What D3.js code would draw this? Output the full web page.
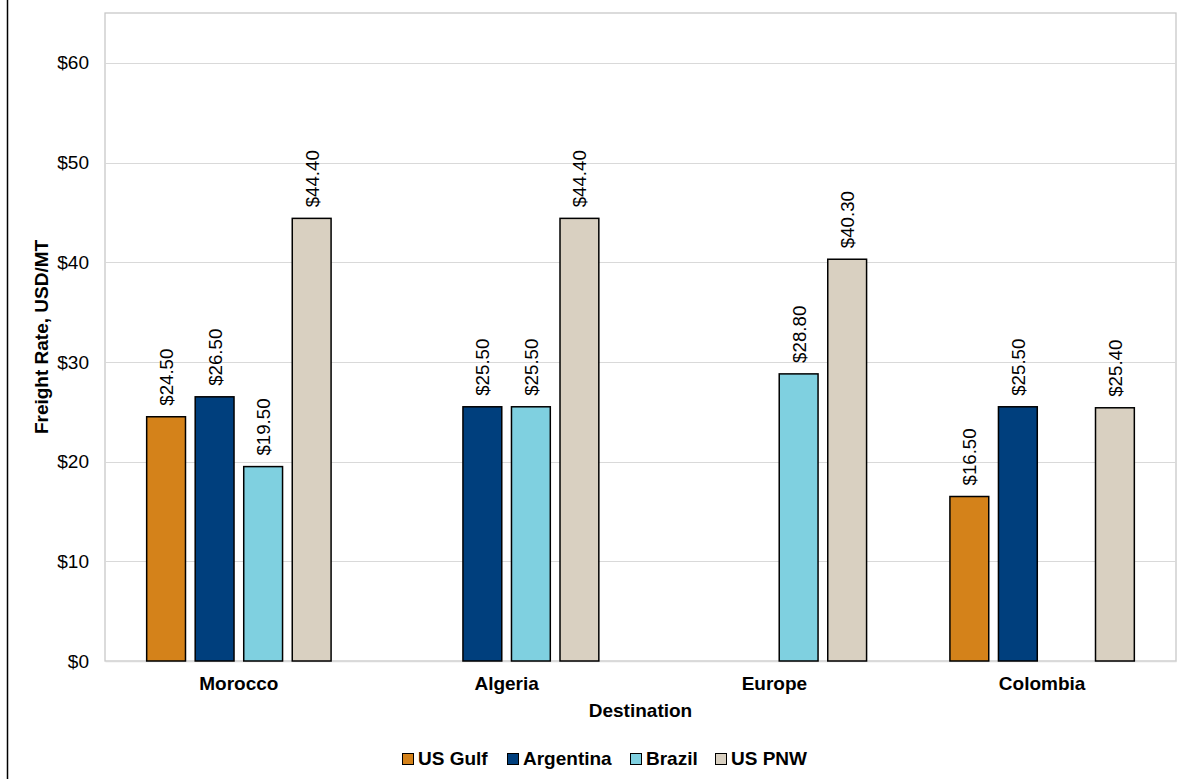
<!DOCTYPE html>
<html><head><meta charset="utf-8">
<script src="https://cdn.jsdelivr.net/npm/d3@7"></script>
<style>body{margin:0;background:#fff;}svg{display:block;font-family:Arial,"Liberation Sans",sans-serif;}</style>
</head><body>
<svg id="c" width="1183" height="779"></svg>
<script>
const categories = ["Morocco","Algeria","Europe","Colombia"];
const seriesNames = ["US Gulf","Argentina","Brazil","US PNW"];
const usGulf = [24.5, null, null, 16.5];
const argentina = [26.5, 25.5, null, 25.5];
const brazil = [19.5, 25.5, 28.8, null];
const usPnw = [44.4, 44.4, 40.3, 25.4];
const yTicks = [0,10,20,30,40,50,60];
const colors = ["#D4821A","#003F7D","#7FD0E0","#D9D0C1"];

const series = [usGulf, argentina, brazil, usPnw];
const svg = d3.select("#c");
const FF = "Arial, Liberation Sans, sans-serif";
const m = {l:105, t:13, r:1176, b:661};
const x = d3.scaleBand().domain(categories).range([m.l, m.r]);
const y = d3.scaleLinear().domain([0,65]).range([m.b, m.t]);
const groupW = x.bandwidth()*0.725;
const xs = d3.scaleBand().domain(seriesNames).range([0, groupW]).paddingInner(0.2).paddingOuter(0.1);

// left border line
svg.append("line").attr("x1",7.5).attr("x2",7.5).attr("y1",0).attr("y2",779).attr("stroke","#000").attr("stroke-width",1.5);

// plot border
svg.append("rect").attr("x",m.l).attr("y",m.t).attr("width",m.r-m.l).attr("height",m.b-m.t)
  .attr("fill","none").attr("stroke","#c8c8c8").attr("stroke-width",1.3);

// gridlines
svg.append("g").selectAll("line").data(yTicks.filter(d=>d>0)).join("line")
  .attr("x1",m.l).attr("x2",m.r).attr("y1",d=>Math.round(y(d))+0.5).attr("y2",d=>Math.round(y(d))+0.5)
  .attr("stroke","#d9d9d9").attr("stroke-width",1);

// y axis
const yAxis = d3.axisLeft(y).tickValues(yTicks).tickFormat(d=>"$"+d).tickSize(0).tickPadding(16);
const yg = svg.append("g").attr("transform",`translate(${m.l},0)`).call(yAxis);
yg.select(".domain").remove();
yg.selectAll("text").attr("font-size",19).attr("fill","#000").attr("font-family",FF);

// x axis
const xAxis = d3.axisBottom(x).tickSize(0).tickPadding(16);
const xg = svg.append("g").attr("transform",`translate(0,${m.b})`).call(xAxis);
xg.select(".domain").attr("stroke","#d9d9d9").attr("stroke-width",1.5);
xg.selectAll("text").attr("font-size",19).attr("font-weight","bold").attr("fill","#000").attr("font-family",FF);

// bars
const data = [];
categories.forEach((c,i)=>seriesNames.forEach((s,j)=>{ if(series[j][i]!=null) data.push({c,s,j,v:series[j][i]}); }));
const bx = d => x(d.c) + (x.bandwidth()-groupW)/2 + xs(d.s);
svg.append("g").selectAll("rect").data(data).join("rect")
  .attr("x",bx).attr("y",d=>y(d.v)).attr("width",xs.bandwidth()).attr("height",d=>y(0)-y(d.v))
  .attr("fill",d=>colors[d.j]).attr("stroke","#000").attr("stroke-width",1.5);

// labels
svg.append("g").selectAll("text").data(data).join("text")
  .attr("transform",d=>`translate(${bx(d)+xs.bandwidth()/2+7},${y(d.v)-11}) rotate(-90)`)
  .attr("font-size",18.7).attr("fill","#000").text(d=>"$"+d.v.toFixed(2));

// axis titles
svg.append("text").attr("transform",`translate(48,${(m.t+m.b)/2}) rotate(-90)`).attr("text-anchor","middle")
  .attr("font-size",19).attr("font-weight","bold").text("Freight Rate, USD/MT");
svg.append("text").attr("x",(m.l+m.r)/2).attr("y",717).attr("text-anchor","middle")
  .attr("font-size",19).attr("font-weight","bold").text("Destination");

// legend
const legX = [402, 507, 630, 715];
const lg = svg.append("g").selectAll("g").data(seriesNames).join("g").attr("transform",(d,i)=>`translate(${legX[i]},753)`);
lg.append("rect").attr("x",0.5).attr("y",0.5).attr("width",11).attr("height",11).attr("fill",(d,i)=>colors[i]).attr("stroke","#000").attr("stroke-width",1);
lg.append("text").attr("x",16).attr("y",12).attr("font-size",19).attr("font-weight","bold").text(d=>d);
</script>
</body></html>
